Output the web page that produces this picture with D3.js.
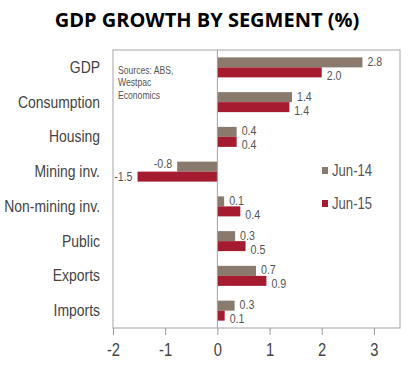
<!DOCTYPE html>
<html><head><meta charset="utf-8">
<script src="https://cdn.jsdelivr.net/npm/d3@7"></script>
<style>
body{margin:0;background:#fff;}
svg{display:block;}
.nar{font-family:"Liberation Sans",Arial,sans-serif;}
</style></head>
<body><svg id="c" width="415" height="370"></svg>
<script>
const categories = ["GDP","Consumption","Housing","Mining inv.","Non-mining inv.","Public","Exports","Imports"];
const seriesNames = ["Jun-14","Jun-15"];
const jun14 = [2.78, 1.43, 0.37, -0.77, 0.13, 0.34, 0.74, 0.33];
const jun15 = [2.0, 1.38, 0.37, -1.53, 0.44, 0.54, 0.94, 0.14];
const xTicks = [-2,-1,0,1,2,3];
const colors = ["#8a7a6d","#a51c30"];
const sourceLines = ["Sources: ABS,","Westpac","Economics"];

const SX = 0.82;
const svg = d3.select("#c");
const L=113,R=400,T=50,B=328;
const x = d3.scaleLinear().domain([-2,3.5]).range([L,R]);
const y = d3.scaleBand().domain(categories).range([T,B]);
const inner = d3.scaleBand().domain(seriesNames).range([0,20]);
const off = (y.bandwidth()-20)/2;
const tr = (px,py)=>`translate(${px},${py}) scale(${SX},1)`;

svg.append("text").attr("x",207).attr("y",27).attr("text-anchor","middle")
  .attr("font-family","'Open Sans',sans-serif").attr("font-weight","bold").attr("font-size",20)
  .attr("fill","#000").text("GDP GROWTH BY SEGMENT (%)");

svg.append("rect").attr("x",L).attr("y",T).attr("width",R-L).attr("height",B-T)
  .attr("fill","none").attr("stroke","#b4b4b4").attr("stroke-width",1.2);

const data = [];
categories.forEach((c,i)=>{
  data.push({c, s:seriesNames[0], v:jun14[i], k:0});
  data.push({c, s:seriesNames[1], v:jun15[i], k:1});
});

svg.append("g").selectAll("rect").data(data).join("rect")
  .attr("x",d=>x(Math.min(0,d.v))).attr("width",d=>Math.abs(x(d.v)-x(0)))
  .attr("y",d=>y(d.c)+off+inner(d.s)).attr("height",inner.bandwidth())
  .attr("fill",d=>colors[d.k]);

svg.append("line").attr("x1",x(0)).attr("x2",x(0)).attr("y1",T).attr("y2",B)
  .attr("stroke","#a0a0a0").attr("stroke-width",1);

const dy = [[-1,-3],[3,0]];
svg.append("g").attr("class","nar").selectAll("text").data(data).join("text")
  .attr("transform",d=>tr(d.v>=0 ? x(d.v)+5 : x(d.v)-5,
      y(d.c)+off+inner(d.s)+inner.bandwidth()/2 + (d.v>=0?dy[d.k][0]:dy[d.k][1])))
  .attr("dy","0.35em")
  .attr("text-anchor",d=>d.v>=0?"start":"end")
  .attr("font-size",13).attr("fill","#555")
  .text(d=>d.v.toFixed(1));

svg.append("g").attr("class","nar").selectAll("text").data(categories).join("text")
  .attr("transform",d=>tr(100, y(d)+y.bandwidth()/2-0.5)).attr("dy","0.35em")
  .attr("text-anchor","end").attr("font-size",17).attr("fill","#444").text(d=>d);

const ax = svg.append("g").attr("transform",`translate(0,${B})`)
  .call(d3.axisBottom(x).tickValues(xTicks).tickSize(7).tickPadding(8).tickFormat(d3.format("d")));
ax.select(".domain").remove();
ax.selectAll(".tick line").attr("stroke","#999");
ax.selectAll(".tick text").attr("font-size",18).attr("fill","#444")
  .attr("font-family","'Liberation Sans',Arial,sans-serif")
  .attr("transform",`scale(${SX},1)`)
  .text(d=>d<0?"-"+Math.abs(d):d);

svg.append("g").attr("class","nar").selectAll("text").data(sourceLines).join("text")
  .attr("transform",(d,i)=>tr(118, 74+i*12.3)).attr("font-size",10.5).attr("fill","#555").text(d=>d);

const lg = svg.append("g").attr("class","nar");
seriesNames.forEach((s,i)=>{
  const cy = 170.5 + i*33;
  lg.append("rect").attr("x",322).attr("y",cy-3.5).attr("width",6).attr("height",7).attr("fill",colors[i]);
  lg.append("text").attr("transform",tr(332,cy)).attr("dy","0.35em").attr("font-size",16).attr("fill","#555").text(s);
});
</script></body></html>
